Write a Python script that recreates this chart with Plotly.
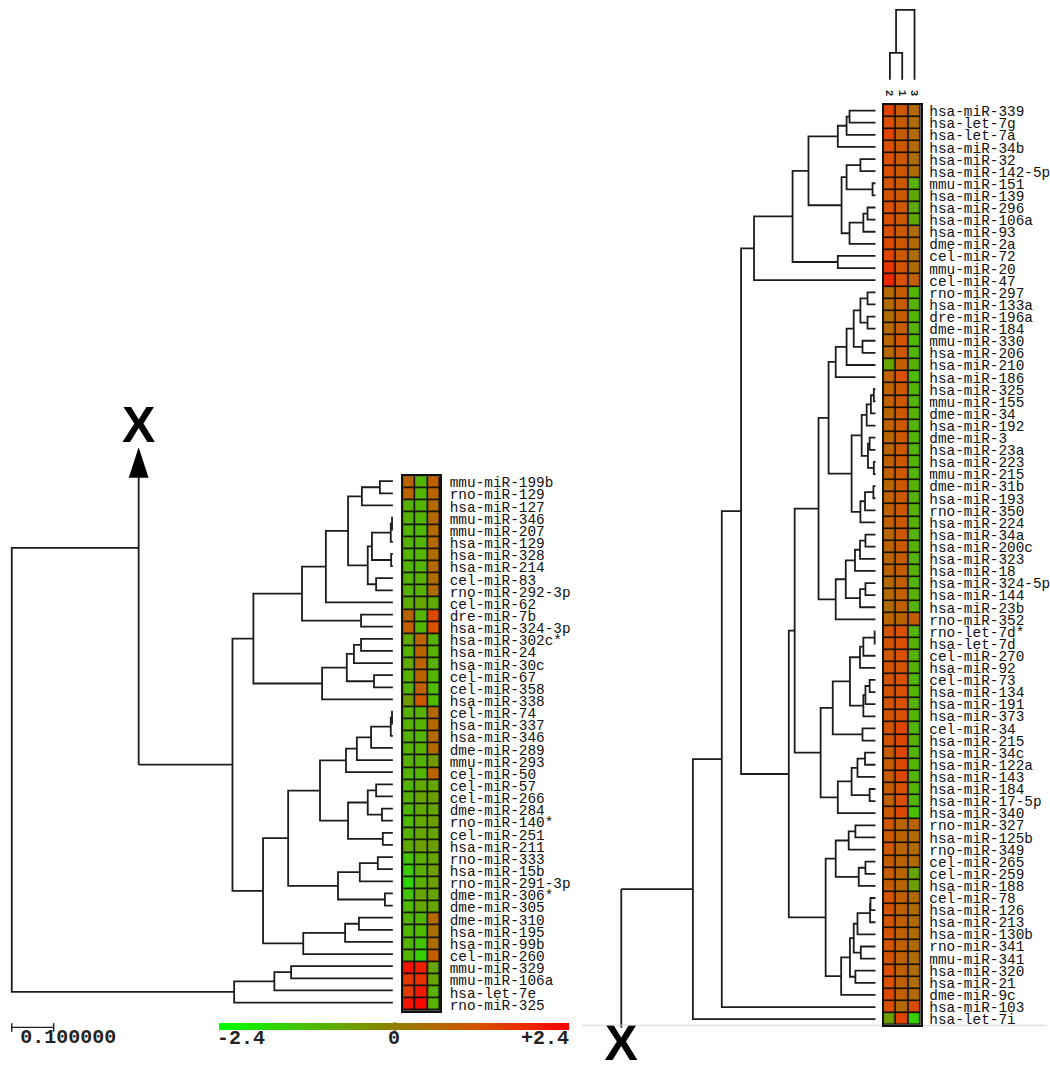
import plotly.graph_objects as go

# ---------- data ----------
LEFT_LABELS = ["mmu-miR-199b","rno-miR-129","hsa-miR-127","mmu-miR-346","mmu-miR-207","hsa-miR-129","hsa-miR-328","hsa-miR-214","cel-miR-83","rno-miR-292-3p","cel-miR-62","dre-miR-7b","hsa-miR-324-3p","hsa-miR-302c*","hsa-miR-24","hsa-miR-30c","cel-miR-67","cel-miR-358","hsa-miR-338","cel-miR-74","hsa-miR-337","hsa-miR-346","dme-miR-289","mmu-miR-293","cel-miR-50","cel-miR-57","cel-miR-266","dme-miR-284","rno-miR-140*","cel-miR-251","hsa-miR-211","rno-miR-333","hsa-miR-15b","rno-miR-291-3p","dme-miR-306*","dme-miR-305","dme-miR-310","hsa-miR-195","hsa-miR-99b","cel-miR-260","mmu-miR-329","mmu-miR-106a","hsa-let-7e","rno-miR-325"]
LEFT_Z = [[.7,-1.0,.8],[.7,-1.0,.7],[-.9,-1.0,.6],[-.95,-1.0,.6],[-1.0,-1.1,.6],[-.95,-1.0,.6],[-1.0,-1.0,.5],[-1.0,-1.0,.6],[-.95,-.9,.5],[-.95,-.95,.5],[-.8,-.7,-.8],[.7,-1.0,1.3],[.8,-1.0,1.2],[-.8,.7,-.95],[-.95,.7,-.95],[-.8,.7,-.95],[-.95,.7,-1.0],[-.95,.8,-1.1],[-.5,1.0,-1.1],[-.95,-.95,.6],[-.95,-1.0,.6],[-.95,-1.0,.6],[-.95,-.95,.6],[-.9,-.95,-.5],[-1.0,-1.0,.7],[-1.0,-.8,-.7],[-.95,-.7,-.6],[-1.0,-.8,-.7],[-1.1,-.8,-.6],[-.95,-.7,-.7],[-.8,-.6,-.6],[-1.25,-.9,-.7],[-1.4,-.9,-.6],[-1.6,-.9,-.6],[-1.3,-.7,-.7],[-1.1,-.7,-.7],[-1.0,-1.0,.6],[-1.0,-1.1,.4],[-1.0,-1.3,.5],[-1.0,-1.5,.9],[2.1,1.9,-.7],[1.6,1.7,-.7],[1.5,2.0,-.9],[2.1,2.3,-.9]]
RIGHT_LABELS = ["hsa-miR-339","hsa-let-7g","hsa-let-7a","hsa-miR-34b","hsa-miR-32","hsa-miR-142-5p","mmu-miR-151","hsa-miR-139","hsa-miR-296","hsa-miR-106a","hsa-miR-93","dme-miR-2a","cel-miR-72","mmu-miR-20","cel-miR-47","rno-miR-297","hsa-miR-133a","dre-miR-196a","dme-miR-184","mmu-miR-330","hsa-miR-206","hsa-miR-210","hsa-miR-186","hsa-miR-325","mmu-miR-155","dme-miR-34","hsa-miR-192","dme-miR-3","hsa-miR-23a","hsa-miR-223","mmu-miR-215","dme-miR-31b","hsa-miR-193","rno-miR-350","hsa-miR-224","hsa-miR-34a","hsa-miR-200c","hsa-miR-323","hsa-miR-18","hsa-miR-324-5p","hsa-miR-144","hsa-miR-23b","rno-miR-352","rno-let-7d*","hsa-let-7d","cel-miR-270","hsa-miR-92","cel-miR-73","hsa-miR-134","hsa-miR-191","hsa-miR-373","cel-miR-34","hsa-miR-215","hsa-miR-34c","hsa-miR-122a","hsa-miR-143","hsa-miR-184","hsa-miR-17-5p","hsa-miR-340","rno-miR-327","hsa-miR-125b","rno-miR-349","cel-miR-265","cel-miR-259","hsa-miR-188","cel-miR-78","hsa-miR-126","hsa-miR-213","hsa-miR-130b","rno-miR-341","mmu-miR-341","hsa-miR-320","hsa-miR-21","dme-miR-9c","hsa-miR-103","hsa-let-7i"]
RIGHT_Z = [[1.4,1.0,.6],[1.2,.9,.5],[1.4,.9,.6],[1.2,1.0,.6],[1.2,1.0,.5],[1.2,1.0,.5],[1.1,1.0,-.95],[1.1,1.0,-.8],[1.2,1.0,-.8],[1.2,1.0,-.8],[1.2,1.0,.5],[1.3,1.0,.6],[1.4,1.0,.5],[1.6,1.1,.5],[1.8,1.2,.8],
[.6,.9,-1.0],[.6,.9,-.95],[.5,.9,-1.0],[.6,.9,-.95],[.7,1.1,-1.1],[.6,1.0,-1.0],[-.7,.8,-.95],[.8,1.2,-1.1],
[.8,1.0,-1.0],[.8,1.0,-1.0],[.7,1.0,-.95],[.8,1.0,-1.0],[.7,1.0,-1.0],[.7,1.0,-1.0],[.8,1.0,-1.0],[.8,1.0,-1.0],[.7,1.0,-.95],[.8,1.0,-.95],[.8,1.0,-.95],[.8,1.0,-.95],[.7,1.0,-.95],[.7,1.0,-.95],[.7,.9,-.95],[.7,.9,-.95],[.6,.8,-1.0],[.6,.8,-.95],[.5,.8,-.95],[.7,.7,.9],
[1.1,1.2,-1.0],[1.1,1.2,-.95],[1.0,1.2,-.95],[1.1,1.1,-.95],[1.1,1.2,-1.0],[1.1,1.2,-1.0],[1.1,1.2,-.95],[1.1,1.2,-1.0],[1.1,1.4,-1.0],[1.1,1.3,-.95],[.9,1.3,-1.0],[.9,1.3,-1.0],[.9,1.3,-1.0],[.9,1.2,-1.0],[.8,1.2,-1.0],[1.0,1.3,-1.2],
[1.0,.7,.7],[1.0,.7,.6],[1.0,.7,.6],[.9,.7,.6],[.9,.7,-.7],[.9,.7,-.6],[1.1,.8,.6],[1.1,.8,.5],[1.1,.8,.5],[1.1,.8,.5],[1.1,.8,.5],[1.1,.8,.5],[1.2,.8,.5],[1.2,.8,.5],[1.3,.8,.6],[1.2,.6,1.3],[-.55,1.4,-1.5]]
COLUMN_LABELS = ["2", "1", "3"]
COLORBAR_LABELS = ["-2.4", "0", "+2.4"]

# merges as (distance, child, child); integer children are row numbers
_LA = (.107,(.074,(.031,1,2),3),(.06,(.05,(.005,(.002,4,5),6),(.004,7,8)),(.04,9,10)))
_LU = (.333,(.217,(.16,_LA,11),(.076,12,13)),(.169,(.11,(.093,(.076,14,15),16),(.045,17,18)),19))
_LL = (.31,(.25,(.174,(.112,(.086,(.052,(.005,(.002,20,21),22),23),24),25),(.107,(.06,(.04,26,27),(.026,28,29)),(.024,30,31))),(.131,(.079,(.036,32,33),34),(.019,35,36))),(.214,(.114,(.081,37,38),39),40))
LEFT_TREE_MAIN = (.383,_LU,_LL)
LEFT_TREE_OUT = (.379,(.283,(.243,41,42),43),44)
_RA = (.09,(.069,(.062,1,2),3),4)
_RB = (.081,(.069,(.036,5,6),(.007,7,8)),(.062,(.029,(.019,9,10),11),12))
_RTOP = (.29,(.198,(.16,_RA,_RB),(.09,13,14)),15)
_RC = (.095,(.069,(.052,(.036,(.019,16,17),(.019,18,19)),(.031,20,21)),22),23)
_RE = (.057,(.033,(.021,(.011,(.004,24,25),26),27),(.018,(.014,28,29),(.004,30,31))),(.036,(.025,(.005,32,33),34),35))
_RG = (.095,(.071,(.049,(.037,(.024,36,37),38),39),(.037,(.024,40,41),42)),43)
_RH = (.136,(.112,_RC,_RE),_RG)
_RI = (.061,(.037,(.029,(.002,44,45),46),47),(.029,(.024,(.014,48,49),50),51))
_RM = (.131,(.102,_RI,(.031,52,53)),(.09,(.057,(.043,(.025,54,55),56),(.014,57,58)),59))
_RO = (.095,(.064,(.048,60,61),62),(.04,(.024,63,64),65))
_RP = (.082,(.061,(.052,(.043,(.013,(.012,66,67),68),69),(.035,70,71)),(.048,72,73)),74)
RIGHT_TREE = (.436,(.367,(.321,_RTOP,(.207,(.193,_RH,_RM),(.119,_RO,_RP))),75),76)
COLUMN_TREE = (.167,(.064,1,2),3)
CUT_DISTANCE = .607
LEFT_ROOT_DISTANCE = .91
LEFT_JOINT_ROW = 6.5
LEFT_STUB_ROW = -0.4
ARROW_TIP_ROW = -1.8
RIGHT_STUB_ROW = 76.7
SCALE_LENGTH = .1

# ---------- layout geometry (pixels) ----------
W, H = 1050, 1065
PX_PER_UNIT = 420
LEFT_TIP, RIGHT_TIP = 394, 878
ROW_PITCH_L, ROW_PITCH_R = 12.17, 12.16
LEFT_ROW1, RIGHT_ROW1 = 482, 110
INK = "#1c1c1c"

def walk(node, xs, ys):
    if isinstance(node, (int, float)) and not isinstance(node, tuple):
        return 0.0, float(node)
    h, a, b = node
    ha, ya = walk(a, xs, ys)
    hb, yb = walk(b, xs, ys)
    xs += [ha, h, h, hb, None]
    ys += [ya, ya, yb, yb, None]
    return h, (ya + yb) / 2

fig = go.Figure()

def line(xs, ys, xa, ya, width=1.8, color=INK):
    fig.add_trace(go.Scatter(x=xs, y=ys, xaxis=xa, yaxis=ya, mode="lines",
                             line=dict(color=color, width=width, shape="linear"),
                             hoverinfo="skip", showlegend=False))

# left dendrogram
lx, ly = [], []
hm, ym = walk(LEFT_TREE_MAIN, lx, ly)
ho, yo = walk(LEFT_TREE_OUT, lx, ly)
lx += [hm, CUT_DISTANCE, None, CUT_DISTANCE, CUT_DISTANCE, None, CUT_DISTANCE, LEFT_ROOT_DISTANCE, LEFT_ROOT_DISTANCE, ho]
ly += [ym, ym, None, LEFT_STUB_ROW, ym, None, LEFT_JOINT_ROW, LEFT_JOINT_ROW, yo, yo]
line(lx, ly, "x", "y")
fig.add_trace(go.Scatter(x=[CUT_DISTANCE], y=[ARROW_TIP_ROW], xaxis="x", yaxis="y", mode="markers",
                         marker=dict(symbol="arrow", size=32, color="black", line=dict(width=0)),
                         hoverinfo="skip", showlegend=False))
# scale bar
SCALE_ROW = 46.05
s0 = LEFT_ROOT_DISTANCE
line([s0, s0 - SCALE_LENGTH, None, s0, s0, None, s0 - SCALE_LENGTH, s0 - SCALE_LENGTH],
     [SCALE_ROW, SCALE_ROW, None, SCALE_ROW - .35, SCALE_ROW + .35, None, SCALE_ROW - .35, SCALE_ROW + .35], "x", "y", width=1.4)
fig.add_trace(go.Scatter(x=[s0 - .02], y=[SCALE_ROW + .85], xaxis="x", yaxis="y", mode="text", text=["0.100000"],
                         textposition="middle right",
                         textfont=dict(family="Liberation Mono", size=20, weight=700, color="#222"),
                         hoverinfo="skip", showlegend=False))
# big X marks
fig.add_trace(go.Scatter(x=[CUT_DISTANCE], y=[-3.25], xaxis="x", yaxis="y", mode="text", text=["X"],
                         textposition="middle center",
                         textfont=dict(family="Liberation Sans", size=50, weight=700, color="black"),
                         hoverinfo="skip", showlegend=False))

# right dendrogram
rx, ry = [], []
hr, yr = walk(RIGHT_TREE, rx, ry)
rx += [hr, CUT_DISTANCE, None, CUT_DISTANCE, CUT_DISTANCE]
ry += [yr, yr, None, yr, RIGHT_STUB_ROW]
line(rx, ry, "x3", "y3")
fig.add_trace(go.Scatter(x=[CUT_DISTANCE], y=[78.35], xaxis="x3", yaxis="y3", mode="text", text=["X"],
                         textposition="middle center",
                         textfont=dict(family="Liberation Sans", size=50, weight=700, color="black"),
                         hoverinfo="skip", showlegend=False))
line([.7, -.414], [76.5, 76.5], "x3", "y3", width=1, color="#d4d4d4")

# column dendrogram
cx, cy = [], []
def walk_col(node):
    if isinstance(node, int):
        return float(node), 0.0
    h, a, b = node
    xa, ha = walk_col(a)
    xb, hb = walk_col(b)
    cx.extend([xa, xa, xb, xb, None])
    cy.extend([ha, h, h, hb, None])
    return (xa + xb) / 2, h
walk_col(COLUMN_TREE)
line(cx, cy, "x4", "y5")

# heatmaps
def heat(z, n, xa, ya):
    fig.add_trace(go.Heatmap(z=z, x=[1, 2, 3], y=list(range(1, n + 1)), xaxis=xa, yaxis=ya,
                             coloraxis="coloraxis", xgap=1.6, ygap=1.6, hoverinfo="skip"))
heat(LEFT_Z, len(LEFT_Z), "x2", "y2")
heat(RIGHT_Z, len(RIGHT_Z), "x4", "y4")

# axes
def hidden(**kw):
    return dict(visible=False, fixedrange=True, **kw)

def row_range(row1, pitch):
    return [1 + (H - row1) / pitch, 1 - row1 / pitch]

label_font = dict(family="Liberation Mono", size=14.4, color="#111")

def dom_y(top, bottom):
    return [1 - bottom / H, 1 - top / H]

fig.update_layout(
    width=W, height=H, autosize=False, margin=dict(l=0, r=0, t=0, b=0, pad=0),
    paper_bgcolor="white", plot_bgcolor="rgba(0,0,0,0)", showlegend=False,
    xaxis=hidden(domain=[0, 1], range=[LEFT_TIP / PX_PER_UNIT, (LEFT_TIP - W) / PX_PER_UNIT], anchor="y"),
    yaxis=hidden(domain=[0, 1], range=row_range(LEFT_ROW1, ROW_PITCH_L), anchor="x"),
    xaxis3=hidden(domain=[0, 1], range=[RIGHT_TIP / PX_PER_UNIT, (RIGHT_TIP - W) / PX_PER_UNIT], anchor="y3"),
    yaxis3=hidden(domain=[0, 1], range=row_range(RIGHT_ROW1, ROW_PITCH_R), anchor="x3"),
    xaxis2=dict(domain=[404.3 / W, 441.3 / W], range=[.5, 3.5], anchor="y2", showticklabels=False, ticks="",
                showline=True, mirror=True, linecolor="#111", linewidth=1.6, showgrid=False, zeroline=False, fixedrange=True),
    yaxis2=dict(domain=dom_y(477, 1013.5), range=[len(LEFT_Z) + .5, .5], anchor="x2", side="right",
                tickmode="array", tickvals=list(range(1, len(LEFT_Z) + 1)), ticktext=LEFT_LABELS,
                tickfont=label_font, ticks="outside", ticklen=5, tickcolor="rgba(0,0,0,0)",
                showline=True, mirror=True, linecolor="#111", linewidth=1.6, showgrid=False, zeroline=False, fixedrange=True),
    xaxis4=dict(domain=[886.3 / W, 923.3 / W], range=[.5, 3.5], anchor="y4", side="top",
                tickmode="array", tickvals=[1, 2, 3], ticktext=COLUMN_LABELS, tickangle=90,
                tickfont=dict(family="Liberation Mono", size=11, color="#222", weight=700), ticks="outside", ticklen=3, tickcolor="rgba(0,0,0,0)",
                showline=True, mirror=True, linecolor="#111", linewidth=1.6, showgrid=False, zeroline=False, fixedrange=True),
    yaxis4=dict(domain=dom_y(104.5, 1028), range=[len(RIGHT_Z) + .5, .5], anchor="x4", side="right",
                tickmode="array", tickvals=list(range(1, len(RIGHT_Z) + 1)), ticktext=RIGHT_LABELS,
                tickfont=label_font, ticks="outside", ticklen=4, tickcolor="rgba(0,0,0,0)",
                showline=True, mirror=True, linecolor="#111", linewidth=1.6, showgrid=False, zeroline=False, fixedrange=True),
    yaxis5=hidden(domain=[0, 1], range=[(79 - H) / PX_PER_UNIT, 79 / PX_PER_UNIT], anchor="x4"),
    coloraxis=dict(cmin=-2.4, cmax=2.4,
                   colorscale=[[0, "#00ff00"], [.5, "#908000"], [.75, "#d85000"], [1, "#ff0000"]],
                   colorbar=dict(orientation="h", lenmode="pixels", len=350, thicknessmode="pixels", thickness=7,
                                 x=220 / W, xanchor="left", y=1 - 1026 / H, yanchor="top", xpad=0, ypad=0,
                                 outlinewidth=0, showticklabels=False, ticks="")),
    annotations=[
        dict(xref="paper", yref="paper", x=px / W, y=1 - 1041 / H, text=t, showarrow=False,
             xanchor="center", yanchor="middle",
             font=dict(family="Liberation Mono", size=20, weight=700, color="#222"))
        for px, t in zip([242, 395, 547], COLORBAR_LABELS)
    ],
    shapes=[
        dict(type="rect", xref="x2 domain", yref="y2 domain", x0=0, x1=1, y0=0, y1=1, fillcolor="#0c0c0c", line_width=0, layer="below"),
        dict(type="rect", xref="x4 domain", yref="y4 domain", x0=0, x1=1, y0=0, y1=1, fillcolor="#0c0c0c", line_width=0, layer="below"),
        dict(type="rect", xref="paper", yref="paper", x0=394.5 / W, x1=397.5 / W, y0=1 - 1034 / H, y1=1 - 1025 / H, fillcolor="#a8961e", line_width=0),
    ],
)

fig.write_html("out.html", post_script="document.body.style.margin='0';document.body.style.overflow='hidden';",
               config=dict(displayModeBar=False))
